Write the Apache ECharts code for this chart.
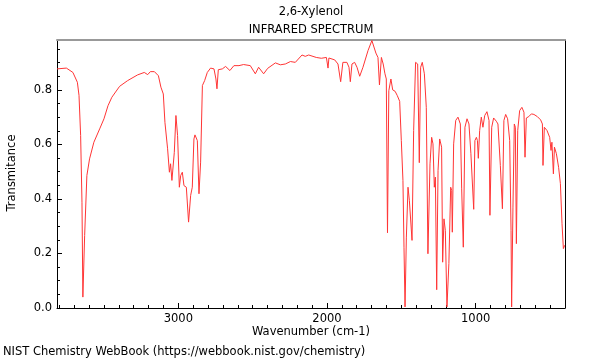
<!DOCTYPE html>
<html>
<head>
<meta charset="utf-8">
<script src="https://cdn.jsdelivr.net/npm/echarts@6/dist/echarts.min.js"></script>
<style>html,body{margin:0;padding:0;background:#fff}#c{width:600px;height:360px}</style>
</head>
<body>
<div id="c"></div>
<script>
const wavenumbers = [3816,3753,3709,3679,3668,3657,3648,3642,3630,3615,3597,3568,3529,3500,3473,3447,3395,3341,3274,3229,3206,3188,3161,3134,3117,3101,3090,3072,3060,3052,3043,3027,3016,3005,2993,2984,2973,2962,2946,2931,2917,2906,2895,2888,2872,2861,2850,2838,2823,2805,2783,2760,2747,2740,2731,2704,2682,2653,2626,2592,2561,2516,2482,2460,2426,2399,2347,2314,2280,2246,2213,2168,2146,2123,2072,2038,2004,1993,1987,1948,1926,1908,1893,1866,1852,1843,1832,1814,1798,1780,1758,1724,1698,1671,1657,1647,1634,1622,1610,1601,1593,1584,1570,1558,1542,1527,1511,1500,1489,1482,1475,1466,1455,1446,1439,1428,1417,1404,1390,1379,1370,1359,1345,1332,1321,1307,1296,1287,1278,1271,1262,1253,1242,1229,1222,1213,1204,1193,1180,1168,1161,1157,1148,1134,1119,1103,1094,1083,1072,1058,1045,1032,1013,1005,995,988,982,973,962,951,939,924,910,904,892,879,861,850,834,820,810,798,785,771,762,758,749,740,733,726,717,704,689,675,668,659,643,625,608,585,563,551,547,538,520,502,493,487,477,470,457,442,430,419,410,401];
const transmittance = [0.877,0.880,0.864,0.828,0.780,0.633,0.388,0.040,0.266,0.486,0.547,0.608,0.657,0.694,0.742,0.773,0.813,0.834,0.855,0.864,0.856,0.867,0.867,0.852,0.810,0.785,0.681,0.584,0.498,0.529,0.468,0.571,0.706,0.633,0.443,0.486,0.498,0.449,0.443,0.315,0.413,0.443,0.620,0.635,0.614,0.419,0.535,0.816,0.834,0.864,0.880,0.877,0.840,0.804,0.874,0.877,0.886,0.871,0.889,0.889,0.893,0.889,0.859,0.883,0.859,0.879,0.899,0.892,0.895,0.904,0.901,0.928,0.923,0.928,0.919,0.916,0.919,0.880,0.917,0.910,0.895,0.830,0.901,0.901,0.883,0.830,0.895,0.901,0.883,0.850,0.883,0.944,0.981,0.935,0.919,0.818,0.919,0.895,0.859,0.840,0.276,0.797,0.840,0.800,0.795,0.779,0.758,0.614,0.468,0.223,0.004,0.260,0.443,0.395,0.400,0.248,0.651,0.901,0.895,0.533,0.883,0.901,0.859,0.736,0.199,0.529,0.626,0.602,0.443,0.480,0.067,0.504,0.620,0.590,0.168,0.327,0.285,0.004,0.163,0.443,0.431,0.278,0.602,0.688,0.700,0.675,0.437,0.223,0.663,0.694,0.675,0.566,0.362,0.614,0.626,0.614,0.549,0.651,0.700,0.663,0.706,0.720,0.688,0.340,0.663,0.697,0.685,0.675,0.523,0.364,0.688,0.710,0.694,0.614,0.285,0.004,0.370,0.675,0.663,0.236,0.651,0.724,0.736,0.718,0.553,0.697,0.702,0.712,0.710,0.702,0.690,0.675,0.523,0.663,0.651,0.626,0.578,0.608,0.492,0.590,0.566,0.516,0.456,0.309,0.218,0.230];
const xMajorTicks = [1000, 2000, 3000];
const xMinorTicks = [];
for (let v = 400; v <= 3800; v += 100) if (v % 1000 !== 0) xMinorTicks.push(v);
const yMajorTicks = [0, 0.2, 0.4, 0.6, 0.8];
const yMinorTicks = [0.05,0.1,0.15,0.25,0.3,0.35,0.45,0.5,0.55,0.65,0.7,0.75,0.85,0.9,0.95];
const titleLines = ['2,6-Xylenol', 'INFRARED SPECTRUM'];
const xName = 'Wavenumber (cm-1)';
const yName = 'Transmitance';
const footer = 'NIST Chemistry WebBook (https://webbook.nist.gov/chemistry)';

const X_MIN = 399, X_MAX = 3816, Y_MIN = 0, Y_MAX = 0.983;
const FONT = 'DejaVu Sans';
const FS = 11.5;

const chart = echarts.init(document.getElementById('c'), null, {renderer: 'canvas'});
const pts = wavenumbers.map((w, i) => [w, transmittance[i]]);

function baseX(extra) {
  return Object.assign({
    type: 'value', min: X_MIN, max: X_MAX, inverse: true, gridIndex: 0,
    splitLine: {show: false}, axisLabel: {show: false}, axisTick: {show: false},
    axisLine: {show: false}
  }, extra);
}
function baseY(extra) {
  return Object.assign({
    type: 'value', min: Y_MIN, max: Y_MAX, gridIndex: 0,
    splitLine: {show: false}, axisLabel: {show: false}, axisTick: {show: false},
    axisLine: {show: false}
  }, extra);
}
const txt = (s) => ({text: s, fill: '#000', font: FS + 'px "' + FONT + '"', textVerticalAlign: 'middle'});

chart.setOption({
  animation: false,
  backgroundColor: '#fff',
  grid: {left: 57, right: 35, top: 40, bottom: 52, containLabel: false},
  xAxis: [
    baseX({position: 'bottom',
      axisLine: {show: true, onZero: false, lineStyle: {color: '#000', width: 1}},
      axisTick: {show: true, inside: true, length: 5, customValues: xMajorTicks, lineStyle: {color: '#000'}},
      axisLabel: {show: true, customValues: xMajorTicks, margin: 5, color: '#000', fontFamily: FONT, fontSize: FS,
        formatter: v => String(Math.round(v))}
    }),
    baseX({position: 'bottom',
      axisTick: {show: true, inside: true, length: 3, customValues: xMinorTicks, lineStyle: {color: '#000'}}
    }),
    baseX({position: 'top',
      axisLine: {show: true, onZero: false, lineStyle: {color: '#999', width: 2}}
    })
  ],
  yAxis: [
    baseY({position: 'left',
      axisLine: {show: true, onZero: false, lineStyle: {color: '#000', width: 1}},
      axisTick: {show: true, inside: true, length: 5, customValues: yMajorTicks, lineStyle: {color: '#000'}},
      axisLabel: {show: true, customValues: yMajorTicks, margin: 5, color: '#000', fontFamily: FONT, fontSize: FS,
        formatter: v => Number(v).toFixed(1)}
    }),
    baseY({position: 'left',
      axisTick: {show: true, inside: true, length: 3, customValues: yMinorTicks, lineStyle: {color: '#000'}}
    }),
    baseY({position: 'right',
      axisLine: {show: true, onZero: false, lineStyle: {color: '#000', width: 1}}
    })
  ],
  series: [{
    type: 'line', xAxisIndex: 0, yAxisIndex: 0, data: pts,
    showSymbol: false, symbol: 'none', clip: true,
    lineStyle: {color: '#ff3535', width: 1}
  }],
  graphic: [
    {type: 'text', x: 311, y: 12, style: Object.assign(txt(titleLines[0]), {textAlign: 'center'})},
    {type: 'text', x: 311, y: 30, style: Object.assign(txt(titleLines[1]), {textAlign: 'center'})},
    {type: 'text', x: 311, y: 332, style: Object.assign(txt(xName), {textAlign: 'center'})},
    {type: 'text', x: 12, y: 173, rotation: Math.PI / 2, style: Object.assign(txt(yName), {textAlign: 'center'})},
    {type: 'text', x: 3, y: 352, style: Object.assign(txt(footer), {textAlign: 'left'})}
  ]
});
</script>
</body>
</html>
